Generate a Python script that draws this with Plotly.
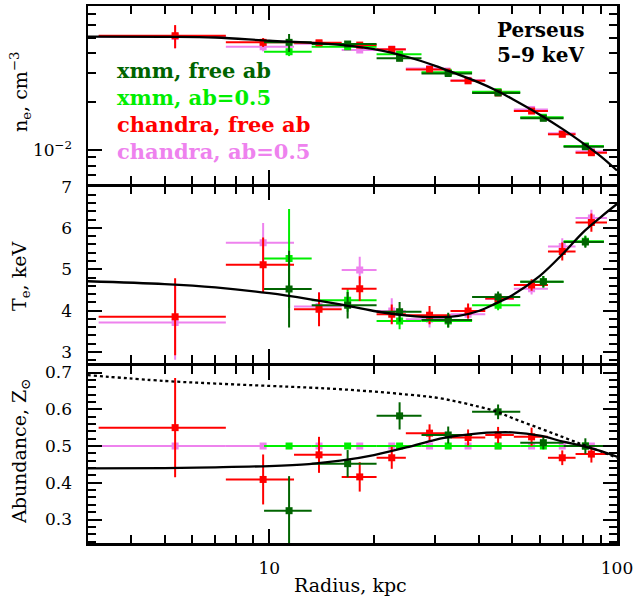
import numpy as np
import plotly.graph_objects as go

# ---------------- data ----------------
# XMM radial bins (kpc)
xmm_r = [11.4, 16.8, 23.7, 32.7, 45.5, 61.4, 81.1]
xmm_r_lo = [9.66, 13.24, 20.35, 27.4, 38.3, 52.7, 70.2]
xmm_r_hi = [13.24, 20.35, 27.4, 38.3, 52.7, 70.2, 91.7]

# Chandra radial bins (kpc)
chandra_r = [5.36, 9.6, 13.9, 18.2, 22.5, 28.9, 37.3, 45.5, 56.8, 69.6, 84.4]
chandra_r_lo = [3.23, 7.5, 11.78, 16.15, 20.35, 24.7, 33.2, 41.8, 50.5, 63.3, 76.0]
chandra_r_hi = [7.5, 11.78, 16.15, 20.35, 24.7, 33.2, 41.8, 50.5, 63.3, 76.0, 93.6]

# electron density, cm^-3
xmm_free_ne = [0.0469, 0.0458, 0.0373, 0.0300, 0.0227, 0.01576, 0.01048]
xmm_free_ne_err = [0.0060, 0.0012, 0.0010, 0.0007, 0.0006, 0.0004, 0.0003]
xmm_ab05_ne = [0.0410, 0.0440, 0.0396, 0.0305, 0.0231, 0.0160, 0.0106]
xmm_ab05_ne_err = [0.0025, 0.0010, 0.0010, 0.0007, 0.0005, 0.0004, 0.0003]
chandra_free_ne = [0.0516, 0.0469, 0.0466, 0.0451, 0.0424, 0.0318, 0.0270, 0.0227, 0.0175, 0.01253, 0.00962]
chandra_free_ne_err = [0.0085, 0.0030, 0.0012, 0.0010, 0.0009, 0.0007, 0.0006, 0.0005, 0.0005, 0.0004, 0.0003]
chandra_ab05_ne = [0.0510, 0.0440, 0.0460, 0.0420, 0.0425, 0.0322, 0.0272, 0.0228, 0.0179, 0.0127, 0.0098]
chandra_ab05_ne_err = [0.0080, 0.0028, 0.0012, 0.0010, 0.0009, 0.0007, 0.0006, 0.0005, 0.0005, 0.0004, 0.0003]

# temperature, keV
xmm_free_T = [4.52, 4.13, 3.97, 3.77, 4.33, 4.70, 5.66]
xmm_free_T_err = [0.93, 0.32, 0.24, 0.18, 0.13, 0.14, 0.14]
xmm_ab05_T = [5.26, 4.25, 3.75, 3.75, 4.13, 4.70, 5.68]
xmm_ab05_T_err = [1.20, 0.28, 0.20, 0.16, 0.12, 0.14, 0.14]
chandra_free_T = [3.85, 5.11, 4.03, 4.53, 3.91, 3.89, 3.99, 4.29, 4.62, 5.43, 6.13]
chandra_free_T_err = [0.93, 0.66, 0.41, 0.30, 0.24, 0.22, 0.18, 0.12, 0.14, 0.22, 0.22]
chandra_ab05_T = [3.71, 5.64, 4.10, 4.98, 3.99, 3.79, 3.91, 4.28, 4.53, 5.55, 6.24]
chandra_ab05_T_err = [0.90, 0.48, 0.35, 0.32, 0.31, 0.20, 0.18, 0.12, 0.14, 0.20, 0.20]

# abundance, solar
xmm_free_Z = [0.324, 0.452, 0.582, 0.530, 0.593, 0.509, 0.500]
xmm_free_Z_err = [0.094, 0.037, 0.037, 0.023, 0.020, 0.018, 0.021]
xmm_ab05_Z = [0.5, 0.5, 0.5, 0.5, 0.5, 0.5, 0.5]
chandra_free_Z = [0.550, 0.409, 0.476, 0.416, 0.468, 0.535, 0.523, 0.530, 0.525, 0.468, 0.478]
chandra_free_Z_err = [0.135, 0.068, 0.049, 0.040, 0.030, 0.024, 0.022, 0.022, 0.025, 0.020, 0.023]
chandra_ab05_Z = [0.5, 0.5, 0.5, 0.5, 0.5, 0.5, 0.5, 0.5, 0.5, 0.5, 0.5]

# model curves
model_r = [3, 5, 7, 10, 13, 16, 20, 25, 30, 35, 40, 45, 50, 60, 70, 80, 90, 100]
model_ne = [0.0509, 0.0508, 0.0503, 0.0480, 0.0467, 0.0452, 0.0425, 0.0380, 0.0335, 0.0295,
            0.0264, 0.0235, 0.0208, 0.0166, 0.01345, 0.0110, 0.0091, 0.00745]
model_T = [4.71, 4.64, 4.56, 4.42, 4.28, 4.15, 3.99, 3.88, 3.84, 3.87, 3.99, 4.18, 4.37,
           4.84, 5.38, 5.90, 6.27, 6.58]
model_Z = [0.439, 0.440, 0.442, 0.4455, 0.451, 0.460, 0.4755, 0.497, 0.517, 0.528, 0.5345,
           0.537, 0.537, 0.528, 0.512, 0.500, 0.486, 0.471]
model_Z_dotted = [0.693, 0.677, 0.670, 0.6635, 0.659, 0.6545, 0.648, 0.640, 0.632, 0.620,
                  0.607, 0.594, 0.576, 0.548, 0.524, 0.503, 0.485, 0.468]

# characteristic radii (vertical dotted lines), kpc
vline_r = [10.7, 42.8]

# tick values
x_major = [10, 100]
x_major_text = ["10", "100"]
x_minor = [3, 4, 5, 6, 7, 8, 9, 20, 30, 40, 50, 60, 70, 80, 90]
ne_major = [0.01]
ne_major_text = ["10<sup>\u22122</sup>"]
ne_minor = [0.007, 0.008, 0.009, 0.02, 0.03, 0.04, 0.05, 0.06, 0.07, 0.08]
T_major = [3, 4, 5, 6, 7]
Z_major = [0.3, 0.4, 0.5, 0.6, 0.7]
Z_major_text = ["0.3", "0.4", "0.5", "0.6", "0.7"]

legend_labels = ["xmm, free ab", "xmm, ab=0.5", "chandra, free ab", "chandra, ab=0.5"]

# ---------------- styling ----------------
C_DKGREEN = "#006400"
C_LIME = "#00ee00"
C_RED = "#ff0000"
C_PINK = "#ee82ee"
FONT = "DejaVu Serif"

fig = go.Figure()


def add_series(r, lo, hi, y, yerr, color, xa, ya):
    ex = dict(type="data", symmetric=False,
              array=[h - c for h, c in zip(hi, r)],
              arrayminus=[c - l for c, l in zip(r, lo)],
              color=color, thickness=2, width=0)
    if yerr is None:
        ey = dict(visible=False)
    else:
        ey = dict(type="data", array=yerr, color=color, thickness=2, width=0)
    fig.add_trace(go.Scatter(x=r, y=y, mode="markers",
                             marker=dict(symbol="square", size=7, color=color),
                             error_x=ex, error_y=ey, xaxis=xa, yaxis=ya,
                             showlegend=False, hoverinfo="skip"))


panels = [
    ("x3", "y3", chandra_ab05_ne, chandra_ab05_ne_err, xmm_ab05_ne, xmm_ab05_ne_err,
     chandra_free_ne, chandra_free_ne_err, xmm_free_ne, xmm_free_ne_err),
    ("x2", "y2", chandra_ab05_T, chandra_ab05_T_err, xmm_ab05_T, xmm_ab05_T_err,
     chandra_free_T, chandra_free_T_err, xmm_free_T, xmm_free_T_err),
    ("x", "y", chandra_ab05_Z, None, xmm_ab05_Z, None,
     chandra_free_Z, chandra_free_Z_err, xmm_free_Z, xmm_free_Z_err),
]

for xa, ya, cab, cabe, xab, xabe, cfr, cfre, xfr, xfre in panels:
    add_series(chandra_r, chandra_r_lo, chandra_r_hi, cab, cabe, C_PINK, xa, ya)
    add_series(xmm_r, xmm_r_lo, xmm_r_hi, xab, xabe, C_LIME, xa, ya)
    add_series(chandra_r, chandra_r_lo, chandra_r_hi, cfr, cfre, C_RED, xa, ya)
    add_series(xmm_r, xmm_r_lo, xmm_r_hi, xfr, xfre, C_DKGREEN, xa, ya)

# model curves
for y, xa, ya, dash in [(model_ne, "x3", "y3", "solid"), (model_T, "x2", "y2", "solid"),
                        (model_Z, "x", "y", "solid"), (model_Z_dotted, "x", "y", "dot")]:
    fig.add_trace(go.Scatter(x=model_r, y=y, mode="lines", xaxis=xa, yaxis=ya,
                             line=dict(color="black", width=2.3, dash=dash, shape="spline"),
                             showlegend=False, hoverinfo="skip"))

# vertical dotted lines across all panels
for r in vline_r:
    fig.add_shape(type="line", xref="x", yref="paper", x0=np.log10(r), x1=np.log10(r),
                  y0=0, y1=1, line=dict(color="black", width=1.5, dash="dot"), layer="above")

tickfont = dict(family=FONT, size=17, color="black")
minor_x = dict(tickmode="array", tickvals=x_minor, ticks="inside", ticklen=8,
               tickwidth=2, tickcolor="black")

def xaxis(anchor, labels):
    return dict(type="log", range=[0.4786, 2.0], anchor=anchor, showline=True,
                linewidth=2.5, linecolor="black", mirror="ticks", ticks="inside",
                ticklen=14, tickwidth=2, tickcolor="black", tickmode="array",
                tickvals=x_major, ticktext=x_major_text, minor=minor_x,
                showticklabels=labels, tickfont=tickfont, showgrid=False,
                zeroline=False, ticklabelstandoff=8, automargin=False)

def yaxis_common(anchor):
    return dict(anchor=anchor, showline=True, linewidth=2.5, linecolor="black",
                mirror="ticks", ticks="inside", ticklen=14, tickwidth=2,
                tickcolor="black", tickfont=tickfont, showgrid=False, zeroline=False,
                ticklabelstandoff=10, automargin=False)

# plot area: y 6..543 px (537 px); panels separated by 2.5 px so borders coincide
dom_bot = [0.0, 0.3296]
dom_mid = [0.3343, 0.6639]
dom_top = [0.6685, 1.0]

ya = yaxis_common("x")
ya.update(domain=dom_bot, range=[0.2361, 0.7177], tickmode="array", tickvals=Z_major,
          ticktext=Z_major_text,
          minor=dict(dtick=0.02, tick0=0, ticks="inside", ticklen=8, tickwidth=2,
                     tickcolor="black"))
ya2 = yaxis_common("x2")
ya2.update(domain=dom_mid, range=[2.72, 7.003], tickmode="array", tickvals=T_major,
           minor=dict(dtick=0.2, tick0=0, ticks="inside", ticklen=8, tickwidth=2,
                      tickcolor="black"))
ya3 = yaxis_common("x3")
ya3.update(domain=dom_top, type="log", range=[-2.212, -1.1022], tickmode="array",
           tickvals=ne_major, ticktext=ne_major_text,
           minor=dict(tickmode="array", tickvals=ne_minor, ticks="inside", ticklen=8,
                      tickwidth=2, tickcolor="black"))

fig.update_layout(
    width=639, height=607,
    margin=dict(l=88, r=22, t=6, b=64, autoexpand=False),
    paper_bgcolor="white", plot_bgcolor="white",
    xaxis=xaxis("y", True), xaxis2=xaxis("y2", False), xaxis3=xaxis("y3", False),
    yaxis=ya, yaxis2=ya2, yaxis3=ya3,
    showlegend=False,
)

# paper-coordinate helpers: plot area x 88..617, y 6..543
def px_x(x):
    return (x - 88) / 529.0

def px_y(y):
    return (543 - y) / 537.0

ann_font = dict(family=FONT, size=19, color="black")
annotations = [
    dict(text="Radius, kpc", x=px_x(350), y=px_y(585), xref="paper", yref="paper",
         showarrow=False, xanchor="center", yanchor="middle", font=ann_font),
    dict(text="n<sub>e</sub>, cm<sup>\u22123</sup>", x=px_x(20), y=px_y(92), xref="paper",
         yref="paper", showarrow=False, textangle=-90, xanchor="center",
         yanchor="middle", font=ann_font),
    dict(text="T<sub>e</sub>, keV", x=px_x(20), y=px_y(277), xref="paper", yref="paper",
         showarrow=False, textangle=-90, xanchor="center", yanchor="middle", font=ann_font),
    dict(text="Abundance, Z<sub>\u2299</sub>", x=px_x(20), y=px_y(452), xref="paper",
         yref="paper", showarrow=False, textangle=-90, xanchor="center",
         yanchor="middle", font=ann_font),
    dict(text="Perseus", x=px_x(495), y=px_y(30), xref="paper", yref="paper",
         showarrow=False, xanchor="left", yanchor="middle",
         font=dict(family=FONT, size=20, color="black", weight="bold")),
    dict(text="5\u20139 keV", x=px_x(495), y=px_y(55), xref="paper", yref="paper",
         showarrow=False, xanchor="left", yanchor="middle",
         font=dict(family=FONT, size=20, color="black", weight="bold")),
]
legend_colors = [C_DKGREEN, C_LIME, C_RED, C_PINK]
legend_ypx = [70, 97, 124, 151]
for lab, col, yy in zip(legend_labels, legend_colors, legend_ypx):
    annotations.append(dict(text=lab, x=px_x(115), y=px_y(yy), xref="paper", yref="paper",
                            showarrow=False, xanchor="left", yanchor="middle",
                            font=dict(family=FONT, size=21, color=col, weight="bold")))
fig.update_layout(annotations=annotations)

fig.write_html("out.html",
               config={"displayModeBar": False, "staticPlot": True},
               post_script="document.body.style.margin='0';"
                           "document.body.style.overflow='hidden';")
